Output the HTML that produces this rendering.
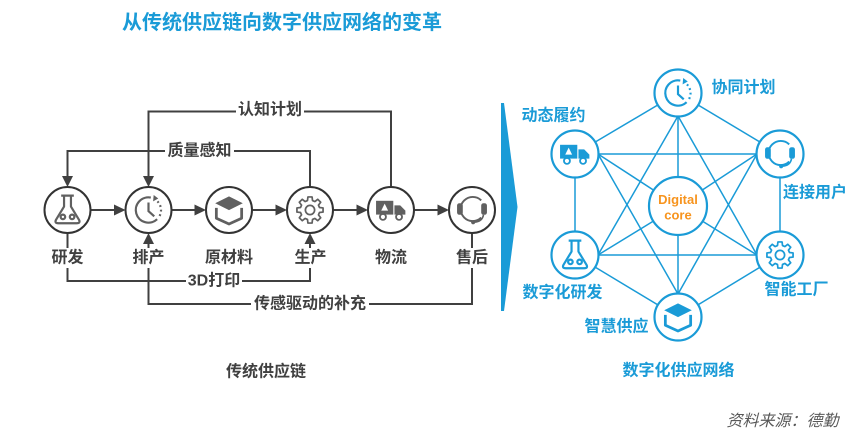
<!DOCTYPE html>
<html><head><meta charset="utf-8">
<style>
html,body{margin:0;padding:0;background:#fff;}
svg{display:block;}
text{font-family:"Liberation Sans","Noto Sans CJK SC",sans-serif;}
</style></head>
<body>
<svg width="865" height="430" viewBox="0 0 865 430" xmlns="http://www.w3.org/2000/svg">
<defs>
 <g id="flask" fill="none" stroke="currentColor" stroke-width="1.9" stroke-linejoin="round">
  <path d="M-5.5,-12.5 H5.5 M-3,-12.5 V-3 L-10,8.5 Q-11.5,11.5 -8,11.5 H8 Q11.5,11.5 10,8.5 L3,-3 V-12.5"/>
  <circle cx="-4" cy="6" r="2"/><circle cx="4" cy="6" r="2"/>
 </g>
 <g id="clock" fill="none" stroke="currentColor" stroke-width="1.9">
  <path d="M2,-10.8 A11,11 0 1 0 7.5,8"/>
  <path d="M7.8,-7.5 A11,11 0 0 1 9.5,5.5" stroke-dasharray="1.6 2.4"/>
  <path d="M4.5,-13 L8.5,-10 L4,-7.5 Z" fill="currentColor" stroke="none"/>
  <path d="M0,-6.5 V1 L5,5.5"/>
 </g>
 <g id="box">
  <path d="M0,-11 L12,-5 L0,1 L-12,-5 Z" fill="currentColor"/>
  <path d="M-11,-1 V8 L0,13 L11,8 V-1" fill="none" stroke="currentColor" stroke-width="2.4" stroke-linejoin="round"/>
 </g>
 <g id="gear" fill="none" stroke="currentColor" stroke-width="1.5" stroke-linejoin="round">
  <path d="M8.21,-2.20 L11.36,-1.80 L11.36,1.80 L8.21,2.20 L7.36,4.25 L9.30,6.76 L6.76,9.30 L4.25,7.36 L2.20,8.21 L1.80,11.36 L-1.80,11.36 L-2.20,8.21 L-4.25,7.36 L-6.76,9.30 L-9.30,6.76 L-7.36,4.25 L-8.21,2.20 L-11.36,1.80 L-11.36,-1.80 L-8.21,-2.20 L-7.36,-4.25 L-9.30,-6.76 L-6.76,-9.30 L-4.25,-7.36 L-2.20,-8.21 L-1.80,-11.36 L1.80,-11.36 L2.20,-8.21 L4.25,-7.36 L6.76,-9.30 L9.30,-6.76 L7.36,-4.25 Z"/>
  <circle r="4"/>
 </g>
 <g id="truck">
  <rect x="-13" y="-8" width="15" height="12" fill="currentColor"/>
  <path d="M3,-4 H8 L12.5,0.5 V4 H3 Z" fill="currentColor"/>
  <path d="M-5.5,-5.5 L-8.5,0.5 H-2.5 Z" fill="#fff"/>
  <circle cx="-7" cy="6" r="2.6" fill="#fff" stroke="currentColor" stroke-width="1.6"/>
  <circle cx="7" cy="6" r="2.6" fill="#fff" stroke="currentColor" stroke-width="1.6"/>
 </g>
 <g id="head">
  <path d="M8,-7.5 A10.5,10.5 0 1 0 8,7.5" fill="none" stroke="currentColor" stroke-width="1.7"/>
  <rect x="-13" y="-5" width="5" height="10" rx="2" fill="currentColor"/>
  <rect x="8" y="-5" width="5" height="10" rx="2" fill="currentColor"/>
  <path d="M10,5 Q9,11 2,11.5" fill="none" stroke="currentColor" stroke-width="1.4"/>
  <circle cx="1" cy="11.5" r="1.8" fill="currentColor"/>
 </g>
</defs>

<!-- Title -->
<text x="282" y="23" font-size="20" font-weight="bold" fill="#1a9bd7" text-anchor="middle" dominant-baseline="central">从传统供应链向数字供应网络的变革</text>

<!-- LEFT DIAGRAM -->
<g stroke="#404040" stroke-width="2" fill="none">
 <path d="M148.5,178 V111.5 H391 V187"/>
 <path d="M67.5,178 V151 H310 V187"/>
 <path d="M67.5,233 V281 H310 V242"/>
 <path d="M148.5,242 V304 H472 V233"/>
 <path d="M90.5,210 H116 M171.5,210 H196 M252,210 H277 M333,210 H358 M414,210 H439"/>
</g>
<g fill="#404040">
 <path d="M62,176 H73 L67.5,187 Z"/>
 <path d="M143,176 H154 L148.5,187 Z"/>
 <path d="M304.5,244 H315.5 L310,233 Z"/>
 <path d="M143,244 H154 L148.5,233 Z"/>
 <path d="M114,204.5 L125.5,210 L114,215.5 Z"/>
 <path d="M194.5,204.5 L206,210 L194.5,215.5 Z"/>
 <path d="M275.5,204.5 L287,210 L275.5,215.5 Z"/>
 <path d="M356.5,204.5 L368,210 L356.5,215.5 Z"/>
 <path d="M437.5,204.5 L449,210 L437.5,215.5 Z"/>
</g>
<g fill="#fff" stroke="#333" stroke-width="2">
 <circle cx="67.5" cy="210" r="23"/>
 <circle cx="148.5" cy="210" r="23"/>
 <circle cx="229" cy="210" r="23"/>
 <circle cx="310" cy="210" r="23"/>
 <circle cx="391" cy="210" r="23"/>
 <circle cx="472" cy="210" r="23"/>
</g>
<g color="#606060">
 <use href="#flask" transform="translate(67.5,210) scale(1.15)"/>
 <use href="#clock" transform="translate(148.5,210) scale(1.15)"/>
 <use href="#box" transform="translate(229,209) scale(1.15)"/>
 <use href="#gear" transform="translate(310,210) scale(1.15)"/>
 <use href="#truck" transform="translate(391,210) scale(1.15)"/>
 <use href="#head" transform="translate(472,209) scale(1.15)"/>
</g>
<g fill="#fff">
 <rect x="236" y="101" width="68" height="20"/>
 <rect x="165" y="141" width="69" height="20"/>
 <rect x="48" y="248" width="40" height="20"/>
 <rect x="129" y="248" width="40" height="20"/>
 <rect x="202" y="248" width="54" height="20"/>
 <rect x="291" y="248" width="40" height="20"/>
 <rect x="371" y="248" width="40" height="20"/>
 <rect x="452" y="248" width="40" height="20"/>
 <rect x="186" y="271" width="56" height="20"/>
 <rect x="251" y="294" width="118" height="20"/>
</g>
<g font-size="16" font-weight="bold" fill="#404040" text-anchor="middle" dominant-baseline="central">
 <text x="270" y="110">认知计划</text>
 <text x="199.5" y="151">质量感知</text>
 <text x="67.5" y="258">研发</text>
 <text x="148.5" y="258">排产</text>
 <text x="229" y="258">原材料</text>
 <text x="310.5" y="258">生产</text>
 <text x="391" y="258">物流</text>
 <text x="472" y="258">售后</text>
 <text x="214" y="281">3D打印</text>
 <text x="310" y="304">传感驱动的补充</text>
 <text x="266" y="372">传统供应链</text>
</g>

<!-- Chevron -->
<path d="M501,103 L504,103 L517.5,207 L504,311 L501,311 Z" fill="#1a9bd7"/>

<!-- RIGHT NETWORK -->
<g stroke="#1a9bd7" stroke-width="1.5" fill="none">
 <path d="M678,93 L575,154 L575,255 L678,317 L780,255 L780,154 Z"/>
 <path d="M598,154 H757 M598,255 H757"/>
 <path d="M678,116 L598,255 M678,116 L757,255"/>
 <path d="M678,294 L598,154 M678,294 L757,154"/>
 <path d="M598,154 L678,206 M757,154 L678,206 M598,255 L678,206 M757,255 L678,206 M678,116 V294"/>
</g>
<g fill="#fff" stroke="#1a9bd7" stroke-width="2.2">
 <circle cx="678" cy="93" r="23.5"/>
 <circle cx="575" cy="154" r="23.5"/>
 <circle cx="780" cy="154" r="23.5"/>
 <circle cx="575" cy="255" r="23.5"/>
 <circle cx="780" cy="255" r="23.5"/>
 <circle cx="678" cy="317" r="23.5"/>
 <circle cx="678" cy="206" r="29"/>
</g>
<g color="#1a9bd7">
 <use href="#clock" transform="translate(678,93) scale(1.15)"/>
 <use href="#truck" transform="translate(575,154) scale(1.15)"/>
 <use href="#head" transform="translate(780,153) scale(1.15)"/>
 <use href="#flask" transform="translate(575,255) scale(1.15)"/>
 <use href="#gear" transform="translate(780,255) scale(1.15)"/>
 <use href="#box" transform="translate(678,316) scale(1.15)"/>
</g>
<g font-size="13" font-weight="bold" fill="#f7941e" text-anchor="middle" dominant-baseline="central">
 <text x="678" y="199.5">Digital</text>
 <text x="678" y="215">core</text>
</g>
<g font-size="16" font-weight="bold" fill="#1a9bd7" text-anchor="middle" dominant-baseline="central">
 <text x="743.5" y="88">协同计划</text>
 <text x="553.5" y="116">动态履约</text>
 <text x="815" y="193">连接用户</text>
 <text x="562.5" y="293">数字化研发</text>
 <text x="796.5" y="290">智能工厂</text>
 <text x="616.5" y="327">智慧供应</text>
 <text x="678.5" y="371">数字化供应网络</text>
</g>
<text x="782.5" y="421.5" font-size="16" font-style="italic" fill="#595959" text-anchor="middle" dominant-baseline="central">资料来源：德勤</text>
</svg>
</body></html>
